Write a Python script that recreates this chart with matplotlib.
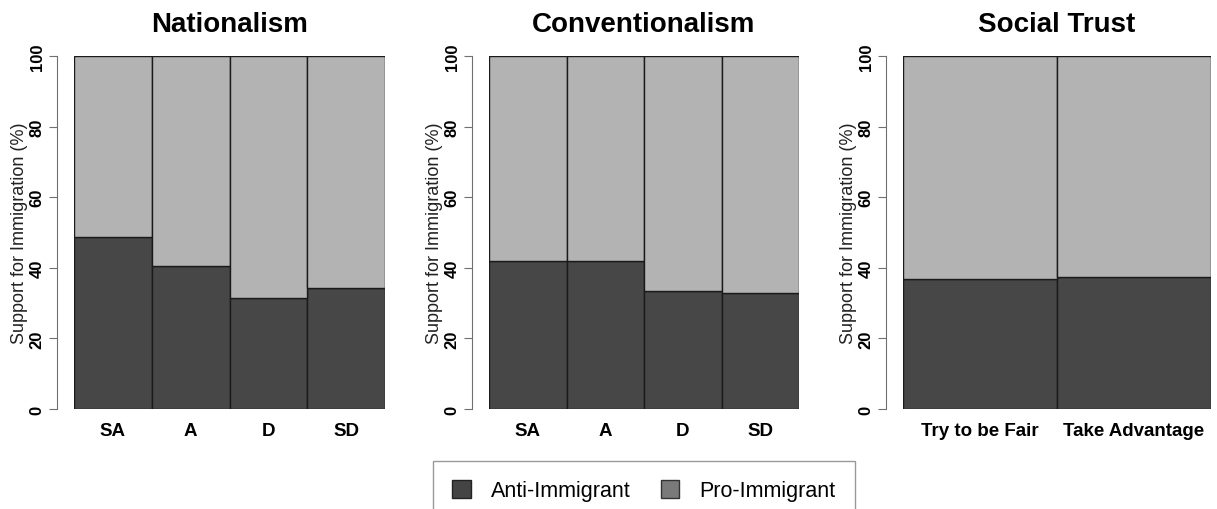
import matplotlib
matplotlib.use("Agg")
import matplotlib.pyplot as plt
from matplotlib.patches import Patch

plt.rcParams['font.family'] = ['Liberation Sans', 'DejaVu Sans']

# anti-immigrant share (%) per category
nat_labels = ["SA", "A", "D", "SD"]
nat_anti = [48.8, 40.5, 31.5, 34.2]

conv_labels = ["SA", "A", "D", "SD"]
conv_anti = [42.0, 41.9, 33.5, 33.0]

trust_labels = ["Try to be Fair", "Take Advantage"]
trust_anti = [36.9, 37.5]

titles = ["Nationalism", "Conventionalism", "Social Trust"]
dark = "#474747"
light = "#b3b3b3"

fig = plt.figure(figsize=(12.17, 5.10), dpi=100)

# axes boxes in pixel terms (left, right) -> figure fractions
W, H = 1217, 510
lefts = [(74, 385), (489, 799), (903, 1211)]
top_px, bot_px = 57, 410

panels = [(nat_labels, nat_anti), (conv_labels, conv_anti), (trust_labels, trust_anti)]

for (l, r), (labels, anti), title in zip(lefts, panels, titles):
    ax = fig.add_axes([l / W, 1 - bot_px / H, (r - l) / W, (bot_px - top_px) / H])
    n = len(labels)
    x = list(range(n))
    pro = [100 - a for a in anti]
    ax.bar(x, anti, width=1, align="edge", color=dark, edgecolor="#1a1a1a", linewidth=1)
    ax.bar(x, pro, bottom=anti, width=1, align="edge", color=light, edgecolor="#1a1a1a", linewidth=1)
    ax.set_xlim(0, n)
    ax.set_ylim(0, 100)
    for s in ["top", "right", "bottom"]:
        ax.spines[s].set_visible(False)
    ax.spines["left"].set_position(("outward", 12))
    ax.spines["left"].set_bounds(0, 100)
    ax.spines["left"].set_color("#707070")
    ax.set_yticks([0, 20, 40, 60, 80, 100])
    ax.set_yticklabels(["0", "20", "40", "60", "80", "100"], rotation=90, va="center",
                       fontweight="bold", fontsize=12)
    ax.tick_params(axis="y", length=6, color="#707070", pad=3)
    ax.set_xticks([i + 0.5 for i in x])
    ax.set_xticklabels(labels, fontweight="bold", fontsize=13.5)
    ax.tick_params(axis="x", length=0, pad=9)
    ax.set_ylabel("Support for Immigration (%)", fontsize=13, labelpad=1, color="#222222")
    ax.set_title(title, fontweight="bold", fontsize=20, pad=18)

handles = [Patch(facecolor="#444444", edgecolor="#222222", label="Anti-Immigrant"),
           Patch(facecolor="#7a7a7a", edgecolor="#333333", label="Pro-Immigrant")]
fig.legend(handles=handles, loc="upper center", bbox_to_anchor=(644 / W, 1 - 462 / H),
           ncol=2, fontsize=15.5, frameon=True, fancybox=False, edgecolor="#808080",
           handlelength=0.85, handleheight=0.85, handletextpad=0.95, columnspacing=1.4,
           borderpad=0.9, borderaxespad=0)

fig.savefig("out.png", dpi=100)
